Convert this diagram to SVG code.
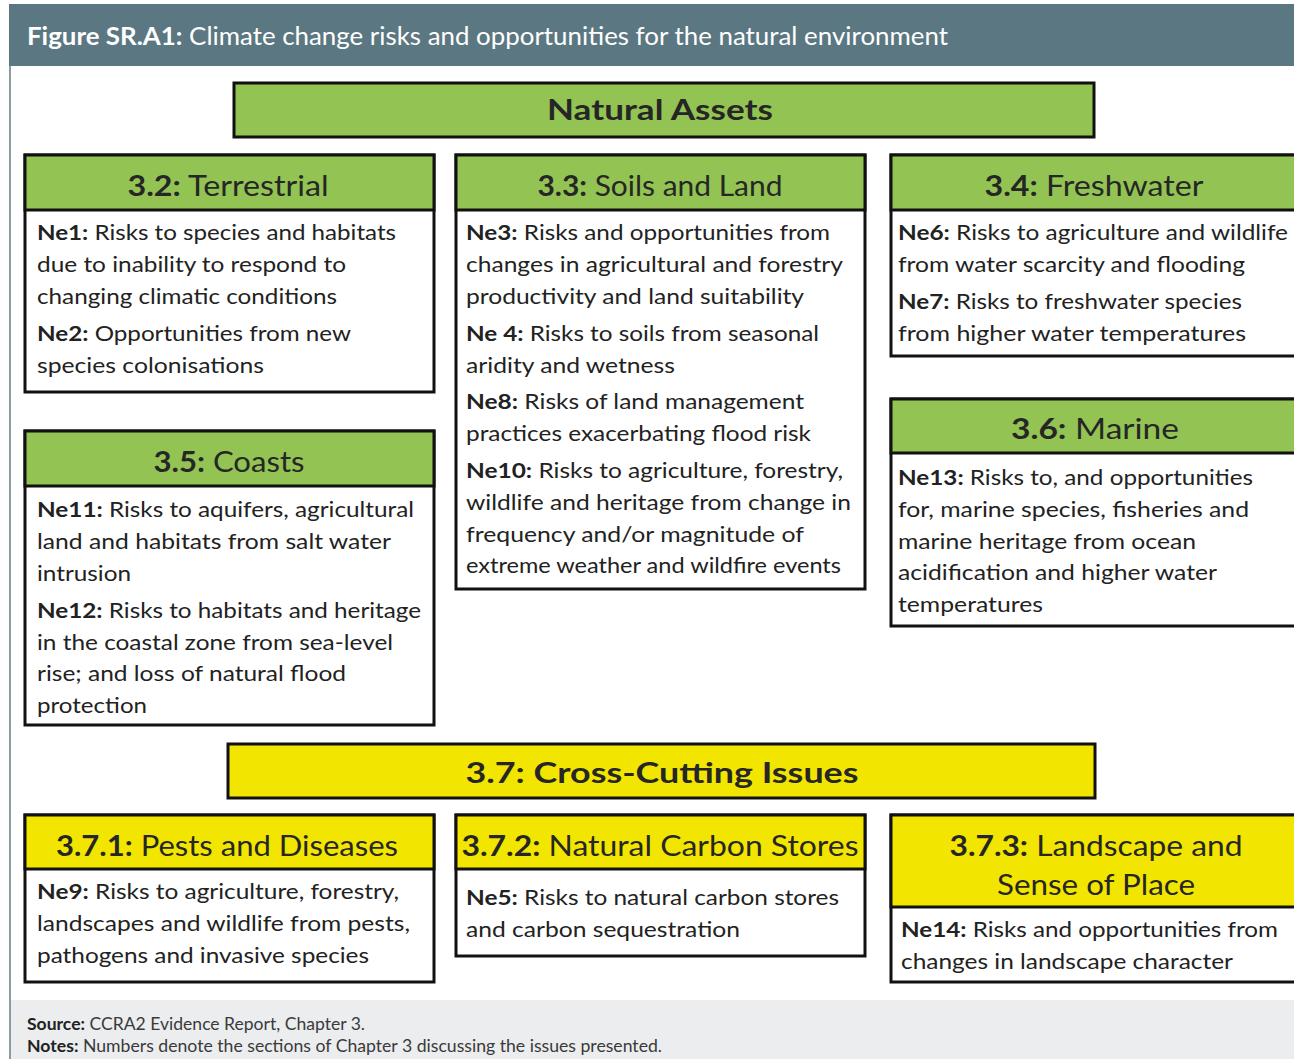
<svg xmlns="http://www.w3.org/2000/svg" width="1294" height="1059" viewBox="0 0 1294 1059">
<style>
.box{fill:#fff;stroke:#111;stroke-width:3}
.hg{fill:#92c353;stroke:#111;stroke-width:3}
.hy{fill:#f2e600;stroke:#111;stroke-width:3}
.h{font-family:Lato,"Liberation Sans",sans-serif;font-size:28px;fill:#262626;text-anchor:middle}
.b{font-family:Lato,"Liberation Sans",sans-serif;font-size:21px;fill:#222}
.k{font-weight:bold}
</style>
<rect x="0" y="0" width="1294" height="1059" fill="#fff"/>
<rect x="9" y="4" width="1290" height="62" fill="#5b7882"/>
<line x1="10" y1="66" x2="10" y2="1059" stroke="#8c9ca3" stroke-width="2"/>
<rect x="11" y="1000" width="1283" height="59" fill="#ebedef"/>
<text x="27" y="45" font-family="Lato,'Liberation Sans',sans-serif" font-size="25" fill="#fff" textLength="921" lengthAdjust="spacingAndGlyphs"><tspan font-weight="bold">Figure SR.A1:</tspan> Climate change risks and opportunities for the natural environment</text>
<g id="footer" font-family="Lato,'Liberation Sans',sans-serif" font-size="17" fill="#3a3a3a">
<text x="27" y="1030" textLength="338" lengthAdjust="spacingAndGlyphs"><tspan font-weight="bold" fill="#222">Source:</tspan> CCRA2 Evidence Report, Chapter 3.</text>
<text x="27" y="1052" textLength="635" lengthAdjust="spacingAndGlyphs"><tspan font-weight="bold" fill="#222">Notes:</tspan> Numbers denote the sections of Chapter 3 discussing the issues presented.</text>
</g>
<g id="natural-assets">
<rect class="hg" x="234" y="83" width="860" height="54"/>
<text class="h k" x="660" y="120" font-size="31" textLength="226" lengthAdjust="spacingAndGlyphs">Natural Assets</text>
</g>
<g id="terrestrial">
<rect class="box" x="25" y="155" width="409" height="237"/>
<rect class="hg" x="25" y="155" width="409" height="55"/>
<text class="h" x="228" y="196" textLength="201" lengthAdjust="spacingAndGlyphs"><tspan class="k">3.2:</tspan> Terrestrial</text>
<text class="b" x="37" y="240" textLength="359" lengthAdjust="spacingAndGlyphs"><tspan class="k">Ne1:</tspan> Risks to species and habitats</text>
<text class="b" x="37" y="272" textLength="309" lengthAdjust="spacingAndGlyphs">due to inability to respond to</text>
<text class="b" x="37" y="304" textLength="300" lengthAdjust="spacingAndGlyphs">changing climatic conditions</text>
<text class="b" x="37" y="341" textLength="314" lengthAdjust="spacingAndGlyphs"><tspan class="k">Ne2:</tspan> Opportunities from new</text>
<text class="b" x="37" y="373" textLength="227" lengthAdjust="spacingAndGlyphs">species  colonisations</text>
</g>
<g id="soils">
<rect class="box" x="456" y="155" width="409" height="434"/>
<rect class="hg" x="456" y="155" width="409" height="55"/>
<text class="h" x="660" y="196" textLength="245" lengthAdjust="spacingAndGlyphs"><tspan class="k">3.3:</tspan> Soils and Land</text>
<text class="b" x="466" y="240" textLength="364" lengthAdjust="spacingAndGlyphs"><tspan class="k">Ne3:</tspan> Risks and opportunities from</text>
<text class="b" x="466" y="272" textLength="377" lengthAdjust="spacingAndGlyphs">changes in agricultural and forestry</text>
<text class="b" x="466" y="304" textLength="338" lengthAdjust="spacingAndGlyphs">productivity and land suitability</text>
<text class="b" x="466" y="341" textLength="353" lengthAdjust="spacingAndGlyphs"><tspan class="k">Ne 4:</tspan> Risks to soils from seasonal</text>
<text class="b" x="466" y="373" textLength="209" lengthAdjust="spacingAndGlyphs">aridity and wetness</text>
<text class="b" x="466" y="409" textLength="338" lengthAdjust="spacingAndGlyphs"><tspan class="k">Ne8:</tspan> Risks of land management</text>
<text class="b" x="466" y="441" textLength="345" lengthAdjust="spacingAndGlyphs">practices exacerbating flood risk</text>
<text class="b" x="466" y="478" textLength="377" lengthAdjust="spacingAndGlyphs"><tspan class="k">Ne10:</tspan> Risks to agriculture, forestry,</text>
<text class="b" x="466" y="510" textLength="385" lengthAdjust="spacingAndGlyphs">wildlife and heritage from change in</text>
<text class="b" x="466" y="542" textLength="338" lengthAdjust="spacingAndGlyphs">frequency and/or magnitude of</text>
<text class="b" x="466" y="573" textLength="375" lengthAdjust="spacingAndGlyphs">extreme weather and wildfire events</text>
</g>
<g id="freshwater">
<rect class="box" x="891" y="155" width="410" height="201"/>
<rect class="hg" x="891" y="155" width="410" height="55"/>
<text class="h" x="1094" y="196" textLength="219" lengthAdjust="spacingAndGlyphs"><tspan class="k">3.4:</tspan> Freshwater</text>
<text class="b" x="898" y="240" textLength="390" lengthAdjust="spacingAndGlyphs"><tspan class="k">Ne6:</tspan> Risks to agriculture and wildlife</text>
<text class="b" x="898" y="272" textLength="347" lengthAdjust="spacingAndGlyphs">from water scarcity and flooding</text>
<text class="b" x="898" y="309" textLength="344" lengthAdjust="spacingAndGlyphs"><tspan class="k">Ne7:</tspan> Risks to freshwater species</text>
<text class="b" x="898" y="341" textLength="348" lengthAdjust="spacingAndGlyphs">from higher water temperatures</text>
</g>
<g id="marine">
<rect class="box" x="891" y="399" width="410" height="227"/>
<rect class="hg" x="891" y="399" width="410" height="54"/>
<text class="h" x="1095" y="439" textLength="168" lengthAdjust="spacingAndGlyphs"><tspan class="k">3.6:</tspan> Marine</text>
<text class="b" x="898" y="485" textLength="355" lengthAdjust="spacingAndGlyphs"><tspan class="k">Ne13:</tspan> Risks to, and opportunities</text>
<text class="b" x="898" y="517" textLength="351" lengthAdjust="spacingAndGlyphs">for, marine species, fisheries and</text>
<text class="b" x="898" y="549" textLength="298" lengthAdjust="spacingAndGlyphs">marine heritage from ocean</text>
<text class="b" x="898" y="580" textLength="319" lengthAdjust="spacingAndGlyphs">acidification and higher water</text>
<text class="b" x="898" y="612" textLength="145" lengthAdjust="spacingAndGlyphs">temperatures</text>
</g>
<g id="coasts">
<rect class="box" x="25" y="431" width="409" height="294"/>
<rect class="hg" x="25" y="431" width="409" height="55"/>
<text class="h" x="229" y="472" textLength="151" lengthAdjust="spacingAndGlyphs"><tspan class="k">3.5:</tspan> Coasts</text>
<text class="b" x="37" y="517" textLength="377" lengthAdjust="spacingAndGlyphs"><tspan class="k">Ne11:</tspan> Risks to aquifers, agricultural</text>
<text class="b" x="37" y="549" textLength="354" lengthAdjust="spacingAndGlyphs">land and habitats from salt water</text>
<text class="b" x="37" y="581" textLength="94" lengthAdjust="spacingAndGlyphs">intrusion</text>
<text class="b" x="37" y="618" textLength="384" lengthAdjust="spacingAndGlyphs"><tspan class="k">Ne12:</tspan> Risks to habitats and heritage</text>
<text class="b" x="37" y="650" textLength="356" lengthAdjust="spacingAndGlyphs">in the coastal zone from sea-level</text>
<text class="b" x="37" y="681" textLength="309" lengthAdjust="spacingAndGlyphs">rise; and loss of natural flood</text>
<text class="b" x="37" y="713" textLength="110" lengthAdjust="spacingAndGlyphs">protection</text>
</g>
<g id="cross-cutting">
<rect class="hy" x="228" y="744" width="867" height="54"/>
<text class="h k" x="662" y="783" font-size="33" textLength="393" lengthAdjust="spacingAndGlyphs">3.7: Cross-Cutting Issues</text>
</g>
<g id="pests">
<rect class="box" x="25" y="815" width="409" height="167"/>
<rect class="hy" x="25" y="815" width="409" height="54"/>
<text class="h" x="227" y="856" textLength="342" lengthAdjust="spacingAndGlyphs"><tspan class="k">3.7.1:</tspan> Pests and Diseases</text>
<text class="b" x="37" y="899" textLength="362" lengthAdjust="spacingAndGlyphs"><tspan class="k">Ne9:</tspan> Risks to agriculture, forestry,</text>
<text class="b" x="37" y="931" textLength="373" lengthAdjust="spacingAndGlyphs">landscapes and wildlife from pests,</text>
<text class="b" x="37" y="963" textLength="332" lengthAdjust="spacingAndGlyphs">pathogens and invasive species</text>
</g>
<g id="carbon">
<rect class="box" x="456" y="815" width="409" height="141"/>
<rect class="hy" x="456" y="815" width="409" height="54"/>
<text class="h" x="660" y="856" textLength="397" lengthAdjust="spacingAndGlyphs"><tspan class="k">3.7.2:</tspan> Natural Carbon Stores</text>
<text class="b" x="466" y="905" textLength="373" lengthAdjust="spacingAndGlyphs"><tspan class="k">Ne5:</tspan> Risks to natural carbon stores</text>
<text class="b" x="466" y="937" textLength="274" lengthAdjust="spacingAndGlyphs">and carbon sequestration</text>
</g>
<g id="landscape">
<rect class="box" x="891" y="815" width="410" height="167"/>
<rect class="hy" x="891" y="815" width="410" height="92"/>
<text class="h" x="1096" y="856" textLength="293" lengthAdjust="spacingAndGlyphs"><tspan class="k">3.7.3:</tspan> Landscape and</text>
<text class="h" x="1096" y="895" textLength="198" lengthAdjust="spacingAndGlyphs">Sense of Place</text>
<text class="b" x="901" y="937" textLength="377" lengthAdjust="spacingAndGlyphs"><tspan class="k">Ne14:</tspan> Risks and opportunities from</text>
<text class="b" x="901" y="969" textLength="332" lengthAdjust="spacingAndGlyphs">changes in landscape character</text>
</g>
<g id="connectors"/>
</svg>
